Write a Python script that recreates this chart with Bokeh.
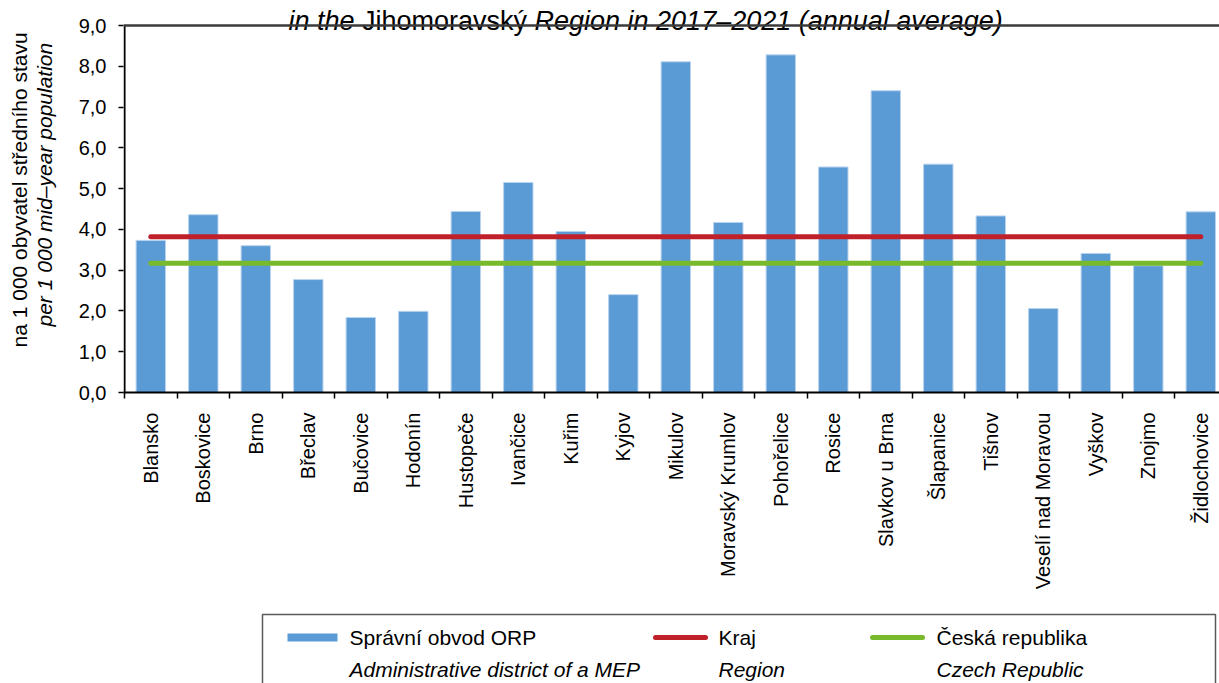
import math
import numpy as np
from bokeh.plotting import figure
from bokeh.layouts import column, row
from bokeh.models import Range1d, FixedTicker, CustomJSTickFormatter, Span, LinearAxis
from bokeh.core.properties import value
from bokeh.embed import file_html
from bokeh.resources import INLINE

# ---------------- data ----------------
categories = ["Blansko", "Boskovice", "Brno", "Břeclav", "Bučovice", "Hodonín",
              "Hustopeče", "Ivančice", "Kuřim", "Kyjov", "Mikulov",
              "Moravský Krumlov", "Pohořelice", "Rosice", "Slavkov u Brna",
              "Šlapanice", "Tišnov", "Veselí nad Moravou", "Vyškov", "Znojmo",
              "Židlochovice"]
orp_values = [3.73, 4.36, 3.60, 2.77, 1.84, 1.99, 4.44, 5.15, 3.95, 2.40, 8.11,
              4.17, 8.28, 5.53, 7.40, 5.60, 4.33, 2.06, 3.41, 3.11, 4.43]
kraj_value = 3.82
cr_value = 3.17
y_ticks = [0, 1, 2, 3, 4, 5, 6, 7, 8, 9]

title_parts = ["in the ", "Jihomoravský", "Region in 2017–2021 (annual average)"]
ylabel_cz = "na 1 000 obyvatel středního stavu"
ylabel_en = "per 1 000 mid–year population"
legend_cz = ["Správní obvod ORP", "Kraj", "Česká republika"]
legend_en = ["Administrative district of a MEP", "Region", "Czech Republic"]

BLUE = "#5B9BD5"
RED = "#C0202A"
GREEN = "#79B92C"
FONT = "Liberation Sans"

n = len(categories)
centers = np.arange(n) + 0.5
bounds = list(range(n + 1))

# ---------------- layout geometry (pixels) ----------------
TOTAL_W = 1219
TOP_H = 606
LEFT_W = 60
FRAME_L = 123          # page x of the value axis
FRAME_B = 392          # page y of the category axis
Y9_PX = 25             # page y of the 9,0 gridline
PX_PER_Y = (FRAME_B - Y9_PX) / y_ticks[-1]
PX_PER_X = 52.5
X0 = -0.02
y_top = y_ticks[-1] + Y9_PX / PX_PER_Y          # frame reaches the page top
x_end = X0 + (TOTAL_W - FRAME_L) / PX_PER_X


def page_x(px):
    return X0 + (px - FRAME_L) / PX_PER_X


def page_y(py):
    return (FRAME_B - py) / PX_PER_Y


# ---------------- left figure (y-axis title, two lines) ----------------
# its frame is aligned with the main frame (page y 0..392)
lf = figure(width=LEFT_W, height=TOP_H, output_backend="svg", toolbar_location=None,
            tools="", x_range=Range1d(0, LEFT_W), y_range=Range1d(0, FRAME_B),
            min_border_left=0, min_border_right=0, min_border_top=0,
            min_border_bottom=TOP_H - FRAME_B, x_axis_type=None, y_axis_type=None)
lf.outline_line_color = None
lf.xgrid.grid_line_color = None
lf.ygrid.grid_line_color = None
lf.text(x=[19], y=[FRAME_B - 347], text=[ylabel_cz], angle=math.pi / 2,
        text_align="left", text_baseline="alphabetic", text_font=value(FONT),
        text_font_size="21px", text_color="black")
lf.text(x=[44], y=[FRAME_B - 326], text=[ylabel_en], angle=math.pi / 2,
        text_align="left", text_baseline="alphabetic", text_font=value(FONT),
        text_font_size="21px", text_font_style="italic", text_color="black")

# ---------------- main figure ----------------
p = figure(width=TOTAL_W - LEFT_W, height=TOP_H, output_backend="svg",
           toolbar_location=None, tools="",
           x_range=Range1d(X0, x_end), y_range=Range1d(0, y_top),
           min_border_left=FRAME_L - LEFT_W, min_border_right=0, min_border_top=0,
           min_border_bottom=TOP_H - FRAME_B, x_axis_type=None, y_axis_type=None)
p.outline_line_color = None

# y axis (ticks + labels; its line is drawn only up to 9,0 below)
yax = LinearAxis(ticker=FixedTicker(ticks=y_ticks, minor_ticks=[]),
                 formatter=CustomJSTickFormatter(code="return tick.toFixed(1).replace('.', ',');"))
yax.axis_line_color = None
yax.major_tick_line_color = "black"
yax.major_tick_line_width = 1.5
yax.major_tick_in = 0
yax.major_tick_out = 5
yax.minor_tick_line_color = None
yax.major_label_standoff = 12
yax.major_label_text_font = FONT
yax.major_label_text_font_size = "20px"
yax.major_label_text_color = "black"
p.add_layout(yax, "left")

# x axis
xax = LinearAxis(ticker=FixedTicker(ticks=list(centers), minor_ticks=bounds),
                 formatter=CustomJSTickFormatter(args=dict(names=categories),
                                                 code="return names[Math.floor(tick)];"))
xax.axis_line_color = "black"
xax.axis_line_width = 2
xax.major_tick_line_color = None
xax.major_tick_in = 0
xax.major_tick_out = 0
xax.minor_tick_line_color = "black"
xax.minor_tick_line_width = 1.5
xax.minor_tick_in = 0
xax.minor_tick_out = 6
xax.major_label_orientation = math.pi / 2
xax.major_label_standoff = 14
xax.major_label_text_font = FONT
xax.major_label_text_font_size = "20px"
xax.major_label_text_color = "black"
p.add_layout(xax, "below")

p.ygrid.ticker = FixedTicker(ticks=y_ticks)
p.ygrid.grid_line_color = "#D4D4D4"
p.ygrid.grid_line_width = 1.5
p.xgrid.grid_line_color = None

p.add_layout(Span(location=y_ticks[-1], dimension="width", line_color="#3A3A3A",
                  line_width=2.5))
p.segment(x0=[0], y0=[y_ticks[0]], x1=[0], y1=[y_ticks[-1]], line_color="black",
          line_width=2)

# bars
p.vbar(x=centers, top=orp_values, bottom=0, width=0.56, fill_color=BLUE,
       line_color="#B9D3EE", line_width=1)

# reference lines
p.line(x=[centers[0], centers[-1]], y=[kraj_value, kraj_value], line_color=RED,
       line_width=5, line_cap="round")
p.line(x=[centers[0], centers[-1]], y=[cr_value, cr_value], line_color=GREEN,
       line_width=5, line_cap="round")

# title (mixed italic / upright)
TB = 20.5
for txt, px, style in zip(title_parts, [288, 361.5, 534], ["italic", "normal", "italic"]):
    p.text(x=[page_x(px)], y=[page_y(TB)], text=[txt], text_align="left",
           text_baseline="alphabetic", text_font=value(FONT), text_font_size="27px",
           text_font_style=style, text_color="black")

# ---------------- legend figure ----------------
LG_H = 683 - TOP_H
lg = figure(width=TOTAL_W, height=LG_H, output_backend="svg", toolbar_location=None,
            tools="", x_range=Range1d(0, TOTAL_W), y_range=Range1d(0, LG_H),
            min_border=0, x_axis_type=None, y_axis_type=None)
lg.outline_line_color = None
lg.xgrid.grid_line_color = None
lg.ygrid.grid_line_color = None

lg.quad(left=[262], right=[1215], top=[LG_H - 8], bottom=[-10], fill_color=None,
        line_color="#595959", line_width=1.5)
row1, row2 = LG_H - 31, LG_H - 63
lg.quad(left=[287], right=[337], top=[row1 + 4], bottom=[row1 - 4], fill_color=BLUE,
        line_color=None)
lg.segment(x0=[655], x1=[705], y0=[row1], y1=[row1], line_color=RED, line_width=5,
           line_cap="round")
lg.segment(x0=[872], x1=[922], y0=[row1], y1=[row1], line_color=GREEN, line_width=5,
           line_cap="round")
tx = [349, 718, 936]
lg.text(x=tx, y=[row1] * 3, text=legend_cz, text_font=value(FONT),
        text_font_size="21px", text_baseline="middle", text_align="left",
        text_color="black")
lg.text(x=tx, y=[row2] * 3, text=legend_en, text_font=value(FONT),
        text_font_size="21px", text_font_style="italic", text_baseline="middle",
        text_align="left", text_color="black")

layout = column(row(lf, p, spacing=0), lg, spacing=0)
open("out.html", "w").write(file_html(layout, INLINE))
